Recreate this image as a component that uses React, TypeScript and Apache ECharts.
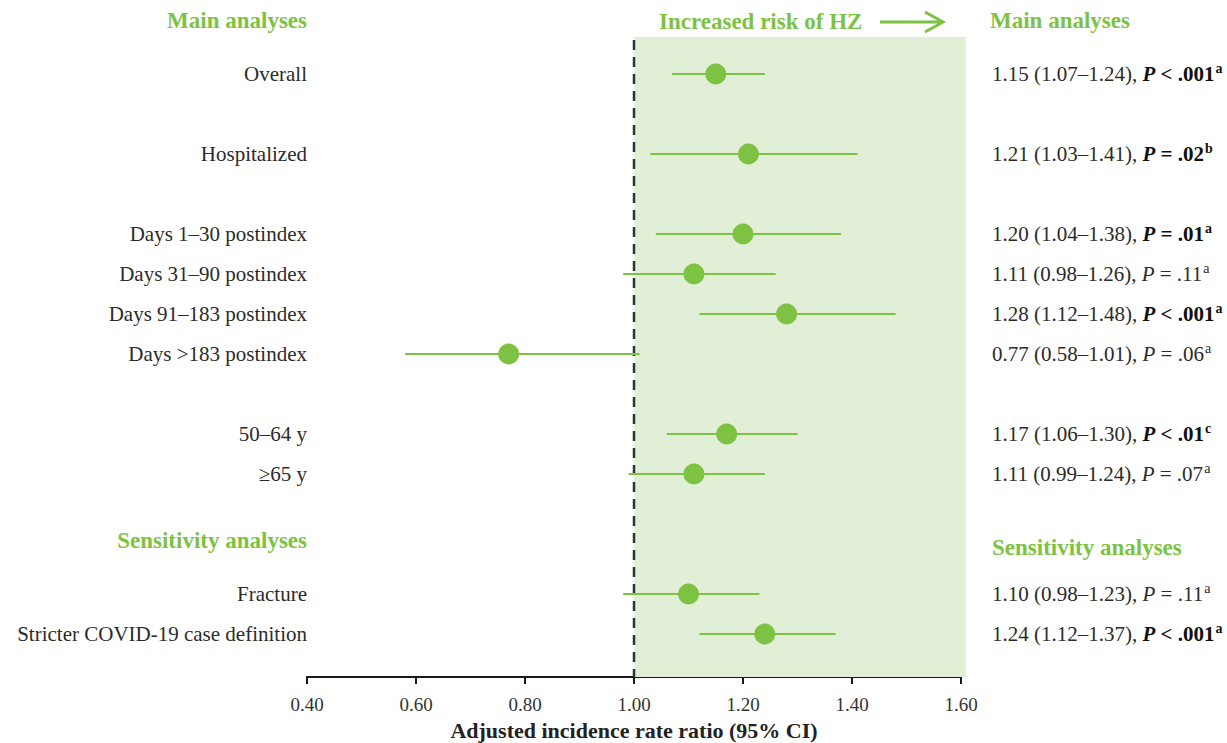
import React, { useEffect, useRef } from "react";
import * as echarts from "echarts";

const categories = [
  "Overall",
  "Hospitalized",
  "Days 1–30 postindex",
  "Days 31–90 postindex",
  "Days 91–183 postindex",
  "Days >183 postindex",
  "50–64 y",
  "≥65 y",
  "Fracture",
  "Stricter COVID-19 case definition",
];
const rowPos = [0, 2, 4, 5, 6, 7, 9, 10, 13, 14];
const irr = [1.15, 1.21, 1.2, 1.11, 1.28, 0.77, 1.17, 1.11, 1.1, 1.24];
const lower = [1.07, 1.03, 1.04, 0.98, 1.12, 0.58, 1.06, 0.99, 0.98, 1.12];
const upper = [1.24, 1.41, 1.38, 1.26, 1.48, 1.01, 1.3, 1.24, 1.23, 1.37];
const pValues = ["< .001", "= .02", "= .01", "= .11", "< .001", "= .06", "< .01", "= .07", "= .11", "< .001"];
const footnotes = ["a", "b", "a", "a", "a", "a", "c", "a", "a", "a"];
const significant = [true, true, true, false, true, false, true, false, false, true];
const xTicks = [0.4, 0.6, 0.8, 1.0, 1.2, 1.4, 1.6];
const refValue = 1.0;

const GREEN = "#7dc242";
const SHADE = "#e2efd7";
const TEXT = "#2b2b2b";
const FONT = "'Liberation Serif', 'DejaVu Serif', serif";

export default function App() {
  const ref = useRef<HTMLDivElement>(null);
  useEffect(() => {
    if (!ref.current) return;
    const chart = echarts.init(ref.current, null, { renderer: "svg" });
    const yMin = -0.925;
    const yMax = 15.075;
    const xMin = xTicks[0];
    const xMax = xTicks[xTicks.length - 1];

    const rows = categories.map((c, i) => [lower[i], upper[i], rowPos[i], irr[i], i]);

    const rightText = (i: number) => {
      const est = `${irr[i].toFixed(2)} (${lower[i].toFixed(2)}–${upper[i].toFixed(2)}), `;
      if (significant[i]) {
        return `{n|${est}}{bp|P}{b| ${pValues[i]}}{bs|${footnotes[i]}}`;
      }
      return `{n|${est}}{ip|P}{n| ${pValues[i]}}{s|${footnotes[i]}}`;
    };

    const headerStyle = (text: string, align: string) => ({
      text,
      textAlign: align,
      textVerticalAlign: "middle",
      fontFamily: FONT,
      fontSize: 23,
      fontWeight: "bold",
      fill: GREEN,
    });

    const option: any = {
      animation: false,
      grid: { left: 307, right: 266, top: 37, bottom: 66, outerBoundsMode: "none", containLabel: false },
      xAxis: {
        type: "value",
        min: xMin,
        max: xMax,
        interval: 0.2,
        splitLine: { show: false },
        axisLine: { show: true, onZero: false, lineStyle: { color: "#1a1a1a", width: 2 } },
        axisTick: { show: true, length: 7, lineStyle: { color: "#1a1a1a", width: 2 } },
        axisLabel: {
          formatter: (v: number) => v.toFixed(2),
          fontFamily: FONT,
          fontSize: 19,
          color: "#333",
          margin: 18,
        },
        name: "Adjusted incidence rate ratio (95% CI)",
        nameLocation: "middle",
        nameGap: 42,
        nameTextStyle: { fontFamily: FONT, fontSize: 22, fontWeight: "bold", color: "#222" },
      },
      yAxis: { type: "value", min: yMin, max: yMax, inverse: true, show: false },
      series: [
        {
          type: "custom",
          name: "shade",
          silent: true,
          data: [[refValue, xMax]],
          renderItem: (params: any, api: any) => {
            const p0 = api.coord([api.value(0), yMin]);
            const p1 = api.coord([api.value(1), yMax]);
            return {
              type: "rect",
              shape: { x: p0[0], y: p0[1], width: p1[0] - p0[0] + 5, height: p1[1] - p0[1] },
              style: { fill: SHADE },
            };
          },
          z: 1,
        },
        {
          type: "custom",
          name: "ref",
          silent: true,
          data: [[refValue]],
          renderItem: (params: any, api: any) => {
            const p0 = api.coord([api.value(0), yMin]);
            const p1 = api.coord([api.value(0), yMax]);
            return {
              type: "line",
              shape: { x1: p0[0], y1: p0[1] + 3, x2: p1[0], y2: p1[1] },
              style: { stroke: "#333", lineWidth: 2.5, lineDash: [10, 7] },
            };
          },
          z: 2,
        },
        {
          type: "custom",
          name: "ci",
          data: rows,
          renderItem: (params: any, api: any) => {
            const p0 = api.coord([api.value(0), api.value(2)]);
            const p1 = api.coord([api.value(1), api.value(2)]);
            return {
              type: "line",
              shape: { x1: p0[0], y1: p0[1], x2: p1[0], y2: p1[1] },
              style: { stroke: GREEN, lineWidth: 2 },
            };
          },
          z: 3,
        },
        {
          type: "scatter",
          name: "irr",
          data: rows.map((r) => [r[3], r[2]]),
          symbol: "circle",
          symbolSize: 21,
          itemStyle: { color: GREEN, opacity: 1 },
          z: 4,
        },
        {
          type: "custom",
          name: "labels",
          silent: true,
          data: rows.map((r) => [xMin, r[2], r[4]]),
          renderItem: (params: any, api: any) => {
            const p = api.coord([api.value(0), api.value(1)]);
            const i = api.value(2);
            return {
              type: "text",
              x: p[0],
              y: p[1],
              style: {
                text: categories[i],
                textAlign: "right",
                textVerticalAlign: "middle",
                fontFamily: FONT,
                fontSize: 21,
                fill: TEXT,
              },
            };
          },
          z: 5,
        },
        {
          type: "custom",
          name: "values",
          silent: true,
          data: rows.map((r) => [xMax, r[2], r[4]]),
          renderItem: (params: any, api: any) => {
            const p = api.coord([api.value(0), api.value(1)]);
            const i = api.value(2);
            return {
              type: "text",
              x: p[0] + 31,
              y: p[1],
              style: {
                text: rightText(i),
                textAlign: "left",
                textVerticalAlign: "middle",
                fontFamily: FONT,
                fontSize: 21,
                fill: TEXT,
                rich: {
                  n: { fontFamily: FONT, fontSize: 21, fill: TEXT, lineHeight: 26 },
                  ip: { fontFamily: FONT, fontSize: 21, fontStyle: "italic", fill: TEXT, lineHeight: 26 },
                  bp: { fontFamily: FONT, fontSize: 21, fontStyle: "italic", fontWeight: "bold", fill: "#111", lineHeight: 26 },
                  b: { fontFamily: FONT, fontSize: 21, fontWeight: "bold", fill: "#111", lineHeight: 26 },
                  s: { fontFamily: FONT, fontSize: 14, fill: TEXT, verticalAlign: "top", lineHeight: 26, padding: [0, 0, 0, 1] },
                  bs: { fontFamily: FONT, fontSize: 14, fontWeight: "bold", fill: "#111", verticalAlign: "top", lineHeight: 26, padding: [0, 0, 0, 1] },
                },
              },
            };
          },
          z: 5,
        },
      ],
      graphic: [
        { type: "text", x: 307, y: 20, style: headerStyle("Main analyses", "right") },
        { type: "text", x: 990, y: 20, style: headerStyle("Main analyses", "left") },
        { type: "text", x: 307, y: 540, style: headerStyle("Sensitivity analyses", "right") },
        { type: "text", x: 992, y: 547, style: headerStyle("Sensitivity analyses", "left") },
        { type: "text", x: 659, y: 21, style: headerStyle("Increased risk of HZ", "left") },
        {
          type: "line",
          shape: { x1: 880, y1: 22, x2: 942, y2: 22 },
          style: { stroke: GREEN, lineWidth: 3 },
        },
        {
          type: "polyline",
          shape: { points: [[925, 12], [943, 22], [925, 32]] },
          style: { stroke: GREEN, lineWidth: 3, fill: null },
        },
      ],
    };
    chart.setOption(option);
    return () => chart.dispose();
  }, []);
  return (
    <div
      ref={ref}
      style={{ position: "fixed", left: 0, top: 0, width: 1227, height: 743, background: "#fff" }}
    />
  );
}
